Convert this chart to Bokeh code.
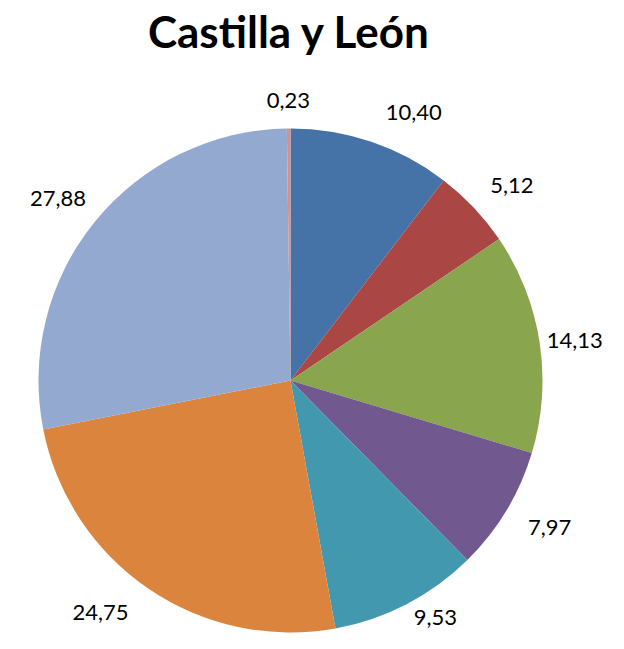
import math
from bokeh.plotting import figure
from bokeh.models import Range1d, ColumnDataSource
from bokeh.core.properties import value
from bokeh.embed import file_html
from bokeh.resources import INLINE

# ---- data ----
title_text = "Castilla y León"
values = [10.40, 5.12, 14.13, 7.97, 9.53, 24.75, 27.88, 0.23]
labels = ["10,40", "5,12", "14,13", "7,97", "9,53", "24,75", "27,88", "0,23"]
colors = ["#4572A7", "#AA4643", "#89A54E", "#71588F", "#4198AF", "#DB843D", "#93A9CF", "#D19392"]

# ---- layout ----
W, H = 608, 633
cx, cy = 290, 253
R = 252
label_r = [295, 295, 287, 298, 278, 300, 295, 280]
label_nudge_deg = [6, 2, 0.7, -1.5, -4, 5, -1, 0]

total = sum(values)
starts, ends, lx, ly = [], [], [], []
cum = 0.0
for v, nd, lr in zip(values, label_nudge_deg, label_r):
    a0 = math.pi / 2 - 2 * math.pi * cum / total
    a1 = math.pi / 2 - 2 * math.pi * (cum + v) / total
    starts.append(a0)
    ends.append(a1)
    mid = (a0 + a1) / 2 - math.radians(nd)
    lx.append(cx + lr * math.cos(mid))
    ly.append(cy + lr * math.sin(mid))
    cum += v

src = ColumnDataSource(dict(start=starts, end=ends, color=colors,
                            lx=lx, ly=ly, label=labels))

p = figure(width=W, height=H, output_backend="svg", toolbar_location=None,
           x_range=Range1d(0, W), y_range=Range1d(0, H), min_border=0)
p.axis.visible = False
p.grid.visible = False
p.outline_line_color = None
p.background_fill_color = "white"

p.wedge(x=cx, y=cy, radius=R, start_angle="start", end_angle="end",
        direction="clock", fill_color="color", line_color=None, source=src)

p.text(x="lx", y="ly", text="label", source=src, text_align="center",
       text_baseline="middle", text_font=value("Lato"), text_font_size="22px",
       text_color="black")

p.text(x=[289], y=[603], text=[title_text], text_align="center",
       text_baseline="middle", text_font=value("Lato"), text_font_size="44px",
       text_font_style="bold", text_color="black")

open("out.html", "w").write(file_html(p, INLINE))
